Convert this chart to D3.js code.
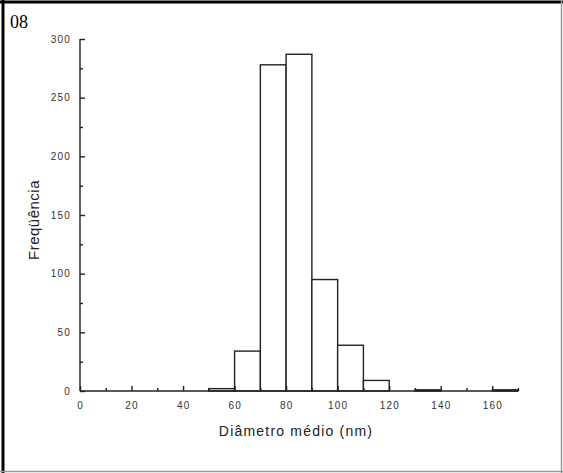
<!DOCTYPE html>
<html>
<head>
<meta charset="utf-8">
<script src="https://cdn.jsdelivr.net/npm/d3@7"></script>
<style>
  body { margin: 0; background: #fff; }
  svg { display: block; }
</style>
</head>
<body>
<div id="my_dataviz"></div>
<script>
// histogram bins (nm) and counts
var binStart = [50, 60, 70, 80, 90, 100, 110, 130, 160];
var binEnd   = [60, 70, 80, 90, 100, 110, 120, 140, 170];
var counts   = [2, 34, 278, 287, 95, 39, 9, 1, 1];
var xTicks = [0, 20, 40, 60, 80, 100, 120, 140, 160];
var yTicks = [0, 50, 100, 150, 200, 250, 300];

var W = 563, H = 473;
var svg = d3.select("#my_dataviz")
  .append("svg")
    .attr("width", W)
    .attr("height", H);

// frame: dark top/left, light gray right/bottom
svg.append("rect").attr("x", 0).attr("y", 0).attr("width", W).attr("height", H).attr("fill", "#fff");
svg.append("line").attr("x1", 0).attr("x2", W).attr("y1", 2).attr("y2", 2)
  .attr("stroke", "#000").attr("stroke-width", 3);
svg.append("line").attr("x1", 3).attr("x2", 3).attr("y1", 0).attr("y2", H)
  .attr("stroke", "#000").attr("stroke-width", 3);
svg.append("line").attr("x1", W - 1.5).attr("x2", W - 1.5).attr("y1", 0).attr("y2", H)
  .attr("stroke", "#999").attr("stroke-width", 1.5);
svg.append("line").attr("x1", 0).attr("x2", W).attr("y1", H - 1.5).attr("y2", H - 1.5)
  .attr("stroke", "#999").attr("stroke-width", 1.5);

svg.append("text")
  .attr("x", 10).attr("y", 28)
  .style("font-family", "'Liberation Serif', 'Times New Roman', serif")
  .style("font-size", "18px")
  .attr("fill", "#000")
  .text("08");

var x = d3.scaleLinear().domain([0, 170]).range([80, 518]);
var y = d3.scaleLinear().domain([0, 300]).range([391, 39]);

var ink = "#222";

// bars
svg.selectAll(".bar")
  .data(counts)
  .enter()
  .append("rect")
    .attr("class", "bar")
    .attr("x", function(d, i) { return x(binStart[i]); })
    .attr("width", function(d, i) { return x(binEnd[i]) - x(binStart[i]); })
    .attr("y", function(d) { return y(d); })
    .attr("height", function(d) { return y(0) - y(d); })
    .attr("fill", "#fff")
    .attr("stroke", ink)
    .attr("stroke-width", 1.4);

// y axis (ticks inward)
var yAxis = svg.append("g")
  .attr("transform", "translate(" + x(0) + ",0)")
  .call(d3.axisRight(y).tickValues(d3.range(0, 301, 25)).tickSize(5).tickFormat(""));
yAxis.selectAll(".tick line")
  .attr("x2", function(d) { return d % 50 === 0 ? 5 : 3; });
yAxis.select(".domain").attr("d", "M0," + y(300) + "V" + y(0));

// x axis (ticks upward)
var xAxis = svg.append("g")
  .attr("transform", "translate(0," + y(0) + ")")
  .call(d3.axisTop(x).tickValues(d3.range(0, 171, 10)).tickSize(5).tickFormat(""));
xAxis.selectAll(".tick line")
  .attr("y2", function(d) { return d % 20 === 0 ? -5 : -3; });
xAxis.select(".domain").attr("d", "M" + x(0) + ",0H" + x(170));

svg.selectAll(".domain, .tick line").attr("stroke", ink).attr("stroke-width", 1.4);

// tick labels
var tickFont = "'Liberation Sans', Arial, sans-serif";
svg.selectAll(".ylab")
  .data(yTicks)
  .enter()
  .append("text")
    .attr("class", "ylab")
    .attr("x", 71)
    .attr("y", function(d) { return y(d) + 3.5; })
    .attr("text-anchor", "end")
    .style("font-family", tickFont)
    .style("font-size", "10px")
    .style("letter-spacing", "1.2px")
    .attr("fill", "#333")
    .text(function(d) { return d; });

svg.selectAll(".xlab")
  .data(xTicks)
  .enter()
  .append("text")
    .attr("class", "xlab")
    .attr("x", function(d) { return x(d) + 0.6; })
    .attr("y", 409)
    .attr("text-anchor", "middle")
    .style("font-family", tickFont)
    .style("font-size", "10px")
    .style("letter-spacing", "1.2px")
    .attr("fill", "#333")
    .text(function(d) { return d; });

// axis titles
svg.append("text")
  .attr("x", 296).attr("y", 436)
  .attr("text-anchor", "middle")
  .style("font-family", tickFont)
  .style("font-size", "14px")
  .style("letter-spacing", "1.2px")
  .attr("fill", "#222")
  .text("Diâmetro médio (nm)");

svg.append("text")
  .attr("transform", "translate(39,220) rotate(-90)")
  .attr("text-anchor", "middle")
  .style("font-family", tickFont)
  .style("font-size", "15px")
  .style("letter-spacing", "0.5px")
  .attr("fill", "#222")
  .text("Freqüência");
</script>
</body>
</html>
